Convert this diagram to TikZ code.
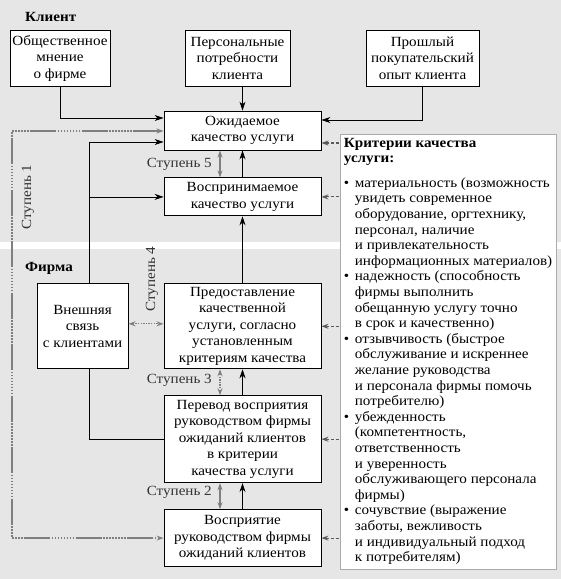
\documentclass[tikz,border=0pt]{standalone}
\usepackage{fontspec}
\setmainfont{Liberation Serif}[FakeStretch=1.08]
\usetikzlibrary{
  arrows.meta,
  positioning,
  backgrounds
}
\definecolor{sqBack}{HTML}{E6E6E6}
\definecolor{sqStep}{HTML}{7F7F7F}
\definecolor{sqCrit}{HTML}{5A5A5A}
\definecolor{sqFrame}{HTML}{ABABAB}
\definecolor{sqText}{HTML}{333333}
\newcommand{\sqfont}{\fontsize{14}{16.5}\selectfont}
\newcommand{\critfont}{\fontsize{14}{15.6}\selectfont}
\newcommand{\critem}[1]{\par\noindent\hangindent=11pt\hangafter=1\makebox[11pt][l]{\textbullet}#1}
\tikzset{
  sqnode/.style={
    draw, line width=0.9pt, fill=white, align=center, font=\sqfont, inner sep=2pt
  },
  colbox/.style={sqnode, minimum width=157pt},
  topbox/.style={sqnode, minimum height=56pt},
  critbox/.style={draw=sqFrame, line width=0.8pt, fill=white, inner xsep=3.5pt,
    inner ysep=3.5pt, font=\critfont, anchor=north west},
  region/.style={font=\sqfont\bfseries, anchor=west, inner sep=0pt},
  steptag/.style={font=\sqfont, text=sqText, inner sep=1pt},
  flow/.style={-{Stealth[length=9pt, width=6pt]}, line width=0.7pt},
  stepflow/.style={{Stealth[length=7pt, width=5pt]}-{Stealth[length=7pt, width=5pt]},
    line width=1.1pt, sqStep},
  stepdots/.style={stepflow, dash pattern=on 1.3pt off 1.3pt},
  stepone/.style={stepflow, line width=1.4pt,
    dash pattern=on 26pt off 1.5pt on 1.5pt off 1.5pt on 1.5pt off 1.5pt on 1.5pt off 1.5pt
      on 1.5pt off 1.5pt on 1.5pt off 1.5pt on 1.5pt off 1.5pt on 1.5pt off 1.5pt on 1.5pt off 1.5pt},
  critflow/.style={{Stealth[length=7pt, width=5pt]}-, line width=1.1pt, sqCrit,
    dash pattern=on 3pt off 2pt}
}
\begin{document}
\begin{tikzpicture}[x=1pt, y=-1pt]
  \useasboundingbox (0,0) rectangle (561,579);
  \fill[sqBack] (0,0) rectangle (561,242);
  \fill[sqBack] (0,249) rectangle (561,579);

  % client side
  \node[region] (client) at (25,17) {Клиент};
  \node[topbox, minimum width=100pt] (opinion) at (60,58) {Общественное\\мнение\\о фирме};
  \node[topbox, minimum width=105pt] (needs) at (237.5,58) {Персональные\\потребности\\клиента};
  \node[topbox, minimum width=113pt] (past) at (422.5,58) {Прошлый\\покупательский\\опыт клиента};
  \node[colbox, minimum height=39pt] (expq) at (242.5,130.5) {Ожидаемое\\качество услуги};
  \node[colbox, below=27pt of expq, minimum height=38pt] (percq) {Воспринимаемое\\качество услуги};

  % firm side
  \node[region] (firm) at (25,268) {Фирма};
  \node[colbox, below=67pt of percq, minimum height=85pt] (deliv)
    {Предоставление\\качественной\\услуги, согласно\\установленным\\критериям качества};
  \node[colbox, below=26pt of deliv, minimum height=87pt] (transl)
    {Перевод восприятия\\руководством фирмы\\ожиданий клиентов\\в критерии\\качества услуги};
  \node[colbox, below=26pt of transl, minimum height=57pt] (mgmt)
    {Восприятие\\руководством фирмы\\ожиданий клиентов};
  \node[sqnode, left=35pt of deliv, minimum width=91pt, minimum height=85pt] (ext)
    {Внешняя\\связь\\с клиентами};

  % criteria
  \node[critbox] (crit) at (340,134) {\begin{minipage}[t][428pt][t]{209pt}\raggedright
    {\bfseries Критерии качества\newline услуги:}\par\vspace{9pt}
    \critem{материальность (возможность\newline увидеть современное\newline
      оборудование, оргтехнику,\newline персонал, наличие\newline
      и привлекательность\newline информационных материалов)}
    \critem{надежность (способность\newline фирмы выполнить\newline
      обещанную услугу точно\newline в срок и качественно)}
    \critem{отзывчивость (быстрое\newline обслуживание и искреннее\newline
      желание руководства\newline и персонала фирмы помочь\newline потребителю)}
    \critem{убежденность\newline (компетентность,\newline ответственность\newline
      и уверенность\newline обслуживающего персонала\newline фирмы)}
    \critem{сочувствие (выражение\newline заботы, вежливость\newline
      и индивидуальный подход\newline к потребителям)}
  \end{minipage}};

  % main flows
  \draw[flow] (opinion.south) |- ([yshift=12.5pt]expq.west);
  \draw[flow] (needs.south -| expq.north) -- (expq.north);
  \draw[flow] (past.south) |- ([yshift=10.5pt]expq.east);
  \draw[flow] (percq) -- (expq);
  \draw[flow] (deliv) -- (percq);
  \draw[flow] (transl) -- (deliv);
  \draw[flow] (mgmt) -- (transl);
  \draw[line width=0.7pt] (transl.west) -| ([xshift=7pt]ext.south);
  \draw[flow] ([xshift=7pt]ext.north) |- ([yshift=-11.5pt]expq.west);
  \draw[flow] ([xshift=7pt]ext.north) |- (percq.west);

  % gaps
  \coordinate (lane) at (12,330);
  \draw[stepone] ([yshift=-0.5pt]expq.west) -| (lane) |- (mgmt.west);
  \node[steptag, rotate=90] (st1) at (28,197) {Ступень 1};
  \draw[stepflow] ([xshift=-22.5pt]mgmt.north) -- ([xshift=-22.5pt]transl.south);
  \node[steptag, anchor=east] (st2) at (213,492) {Ступень 2};
  \draw[stepdots] ([xshift=-22.5pt]transl.north) -- ([xshift=-22.5pt]deliv.south);
  \node[steptag, anchor=east] (st3) at (213,380) {Ступень 3};
  \draw[stepdots] ([yshift=2.5pt]ext.east) -- ([yshift=2.5pt]deliv.west);
  \node[steptag, rotate=90] (st4) at (152,279) {Ступень 4};
  \draw[stepflow] ([xshift=-22.5pt]percq.north) -- ([xshift=-22.5pt]expq.south);
  \node[steptag, anchor=east] (st5) at (213,164) {Ступень 5};

  % criteria links
  \draw[critflow] ([yshift=-12.5pt]expq.east) -- ++(18.5pt,0);
  \foreach \n in {percq,deliv,transl,mgmt}{
    \draw[critflow] (\n.east) -- ++(18.5pt,0);
  }
\end{tikzpicture}
\end{document}
